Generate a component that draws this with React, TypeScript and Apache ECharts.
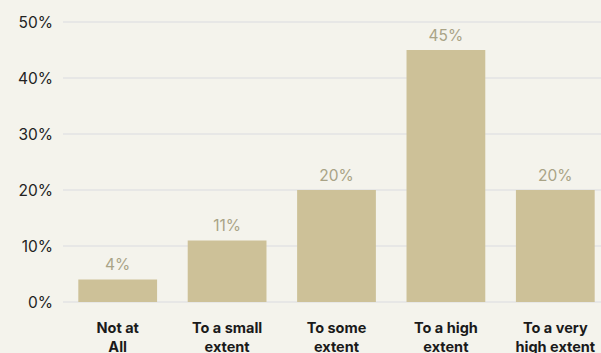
import React, { useEffect, useRef } from "react";
import * as echarts from "echarts";

const categories = ["Not at\nAll", "To a small\nextent", "To some\nextent", "To a high\nextent", "To a very\nhigh extent"];
const values = [4, 11, 20, 45, 20];
const yTicks = [0, 10, 20, 30, 40, 50];

export default function App() {
  const ref = useRef<HTMLDivElement>(null);
  useEffect(() => {
    document.body.style.margin = "0";
    document.body.style.overflow = "hidden";
    document.body.style.background = "#f4f3ec";
    const chart = echarts.init(ref.current!, null, { renderer: "svg" });
    chart.setOption({
      animation: false,
      backgroundColor: "#f4f3ec",
      grid: { left: 63, right: 1, top: 22, bottom: 68 },
      xAxis: {
        type: "category",
        data: categories,
        axisLine: { show: false },
        axisTick: { show: false },
        axisLabel: {
          color: "#1a1a1a",
          fontFamily: "Inter",
          fontWeight: "bold",
          fontSize: 14.5,
          lineHeight: 19,
          margin: 16,
          interval: 0,
        },
      },
      yAxis: {
        type: "value",
        min: yTicks[0],
        max: yTicks[yTicks.length - 1],
        interval: 10,
        axisLabel: {
          formatter: "{value}%",
          color: "#222222",
          fontFamily: "Inter",
          fontSize: 15.5,
          margin: 10,
        },
        splitLine: { lineStyle: { color: "#e3e3e4", width: 1.5 } },
        axisLine: { show: false },
        axisTick: { show: false },
      },
      series: [
        {
          type: "bar",
          data: values,
          barCategoryGap: "28%",
          itemStyle: { color: "#cdc198" },
          label: {
            show: true,
            position: "top",
            formatter: "{c}%",
            color: "#a9a386",
            fontFamily: "Inter",
            fontSize: 15.5,
            distance: 7,
          },
        },
      ],
    });
    return () => chart.dispose();
  }, []);
  return (
    <div
      ref={ref}
      style={{ position: "absolute", left: 0, top: 0, width: 611, height: 370 }}
    />
  );
}
